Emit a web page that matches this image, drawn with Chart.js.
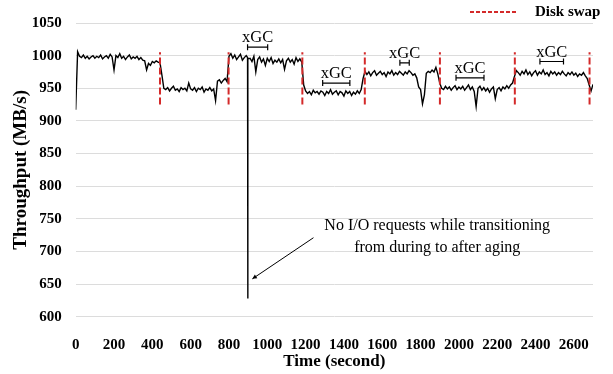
<!DOCTYPE html>
<html>
<head>
<meta charset="utf-8">
<script src="https://cdn.jsdelivr.net/npm/chart.js@4.4.0/dist/chart.umd.min.js"></script>
<style>
  body { margin: 0; background: #fff; }
  #wrap { width: 613px; height: 374px; }
</style>
</head>
<body>
<div id="wrap"><canvas id="throughputChart"></canvas></div>
<script>
// one throughput sample every 10 s, 0 .. 2700 s (MB/s)
const sampleStep = 10;
const throughput = [
  917, 1006, 999, 997, 1001, 996, 999, 995, 998, 1000,
  996, 999, 997, 1001, 995, 998, 1000, 996, 1002, 998,
  978, 1000, 997, 1003, 996, 999, 994, 998, 1001, 995,
  998, 996, 999, 994, 997, 993, 992, 978, 988, 985,
  991, 989, 992, 990, 989, 970, 950, 948, 951, 946,
  950, 953, 947, 949, 945, 951, 948, 950, 946, 958,
  949, 947, 951, 945, 950, 948, 952, 944, 949, 947,
  951, 946, 949, 931, 961, 963, 958, 962, 965, 960,
  999, 1003, 996, 1001, 994, 998, 1002, 993, 997, 1000,
  995, 996, 991, 999, 975, 994, 998, 990, 995, 985,
  996, 991, 997, 988, 993, 990, 995, 989, 994, 979,
  992, 996, 990, 994, 987, 997, 991, 995, 990, 955,
  946, 942, 945, 940, 947, 943, 945, 941, 946, 944,
  939, 945, 942, 948, 941, 944, 946, 940, 945, 943,
  938, 946, 942, 945, 939, 944, 941, 946, 942, 948,
  965, 976, 971, 975, 969, 974, 977, 970, 973, 976,
  971, 974, 968, 975, 972, 977, 970, 974, 971, 976,
  973, 970, 975, 972, 977, 974, 970, 972, 966, 952,
  948, 926, 940, 973, 976, 974, 978, 975, 982, 972,
  958, 950, 948, 953, 949, 952, 947, 951, 954, 948,
  952, 949, 953, 947, 951, 955, 948, 952, 945, 922,
  950, 953, 947, 951, 946, 950, 944, 949, 952, 934,
  948, 951, 946, 952, 949, 954, 950, 955, 958, 968,
  977, 974, 970, 976, 972, 978, 971, 975, 969, 974,
  977, 970, 975, 972, 978, 971, 974, 969, 976, 972,
  975, 970, 974, 971, 976, 972, 969, 974, 971, 975,
  970, 973, 968, 972, 970, 974, 969, 965, 955, 946,
  956
];

// brief stall with no I/O around 900 s
const ioGapTimes = [897, 898, 899];
const ioGapValues = [997, 628, 996];

// disk swaps (red dashed markers)
const swapTimes = [440, 798, 1183, 1509, 1901, 2292, 2682];
const swapRange = [925, 1005];

// xGC intervals
const xgcStart = [897, 1289, 1692, 1985, 2423];
const xgcEnd = [1002, 1431, 1741, 2131, 2546];
const xgcLevel = [1013, 958, 989, 966, 991];

const xTicks = [0, 200, 400, 600, 800, 1000, 1200, 1400, 1600, 1800, 2000, 2200, 2400, 2600];
const yTicks = [600, 650, 700, 750, 800, 850, 900, 950, 1000, 1050];

const serif = '"Liberation Serif", "Times New Roman", serif';

// build point lists
const points = throughput.map((v, i) => ({ x: i * sampleStep, y: v }));
ioGapTimes.forEach((t, i) => points.push({ x: t, y: ioGapValues[i] }));
points.sort((a, b) => a.x - b.x);

const swapPoints = [];
swapTimes.forEach(t => {
  swapPoints.push({ x: t, y: swapRange[0] }, { x: t, y: swapRange[1] }, { x: t, y: null });
});

// annotations, legend
const overlay = {
  id: 'overlay',
  afterDatasetsDraw(chart) {
    const { ctx, scales: { x, y } } = chart;
    ctx.save();
    ctx.strokeStyle = '#000';
    ctx.fillStyle = '#000';
    ctx.lineWidth = 1.2;

    // xGC spans
    ctx.font = '16.5px ' + serif;
    ctx.textAlign = 'center';
    ctx.textBaseline = 'alphabetic';
    xgcStart.forEach((s, i) => {
      const x0 = x.getPixelForValue(s);
      const x1 = x.getPixelForValue(xgcEnd[i]);
      const yy = y.getPixelForValue(xgcLevel[i]);
      ctx.beginPath();
      ctx.moveTo(x0, yy); ctx.lineTo(x1, yy);
      ctx.moveTo(x0, yy - 3); ctx.lineTo(x0, yy + 3);
      ctx.moveTo(x1, yy - 3); ctx.lineTo(x1, yy + 3);
      ctx.stroke();
      ctx.fillText('xGC', (x0 + x1) / 2, yy - 5);
    });

    // note + arrow
    ctx.font = '16px ' + serif;
    const tx = x.getPixelForValue(1887);
    const ty = y.getPixelForValue(739);
    ctx.textBaseline = 'middle';
    ctx.fillText('No I/O requests while transitioning', tx, ty);
    ctx.fillText('from during to after aging', tx, ty + 21.6);

    const ax0 = x.getPixelForValue(1241), ay0 = y.getPixelForValue(721);
    const ax1 = x.getPixelForValue(922), ay1 = y.getPixelForValue(658);
    ctx.lineWidth = 1;
    ctx.beginPath();
    ctx.moveTo(ax0, ay0); ctx.lineTo(ax1, ay1);
    ctx.stroke();
    const ang = Math.atan2(ay1 - ay0, ax1 - ax0);
    ctx.beginPath();
    ctx.moveTo(ax1, ay1);
    ctx.lineTo(ax1 - 5 * Math.cos(ang - 0.45), ay1 - 5 * Math.sin(ang - 0.45));
    ctx.lineTo(ax1 - 5 * Math.cos(ang + 0.45), ay1 - 5 * Math.sin(ang + 0.45));
    ctx.closePath();
    ctx.fill();

    // legend
    const lx = chart.width - 143;
    ctx.strokeStyle = '#d42a2a';
    ctx.lineWidth = 2;
    ctx.setLineDash([4, 2]);
    ctx.beginPath();
    ctx.moveTo(lx, 12); ctx.lineTo(lx + 48, 12);
    ctx.stroke();
    ctx.setLineDash([]);
    ctx.font = 'bold 15px ' + serif;
    ctx.textAlign = 'left';
    ctx.fillText('Disk swap', lx + 65, 12);
    ctx.restore();
  }
};

const ctx = document.getElementById('throughputChart').getContext('2d');

const throughputChart = new Chart(ctx, {
  type: 'line',
  data: {
    datasets: [
      {
        label: 'Disk swap',
        data: swapPoints,
        borderColor: '#d42a2a',
        borderWidth: 2,
        borderDash: [7, 3],
        pointRadius: 0,
        spanGaps: false,
        order: 0
      },
      {
        label: 'Throughput',
        data: points,
        borderColor: '#000',
        borderWidth: 1.4,
        pointRadius: 0,
        tension: 0,
        order: 1
      }
    ]
  },
  options: {
    responsive: true,
    maintainAspectRatio: false,
    animation: false,
    layout: { padding: { top: 9, right: 20, bottom: 0, left: 0 } },
    plugins: {
      legend: { display: false },
      tooltip: { enabled: false }
    },
    scales: {
      x: {
        type: 'linear',
        min: 0,
        max: 2700,
        afterBuildTicks: s => { s.ticks = xTicks.map(v => ({ value: v })); },
        afterFit: s => { s.height = 57.3; },
        grid: { display: false },
        border: { display: false },
        ticks: {
          color: '#000',
          padding: 11,
          maxRotation: 0,
          autoSkip: false,
          callback: v => String(v),
          font: { family: serif, size: 15, weight: 'bold' }
        },
        title: {
          display: true,
          text: 'Time (second)',
          color: '#000',
          font: { family: serif, size: 17, weight: 'bold' },
          padding: { top: 0, bottom: 2 }
        }
      },
      y: {
        min: 600,
        max: 1050,
        afterBuildTicks: s => { s.ticks = yTicks.map(v => ({ value: v })); },
        afterFit: s => { s.width = 75.7; },
        grid: { color: '#dcdcdc', lineWidth: 1, drawTicks: false },
        border: { display: false },
        ticks: {
          color: '#000',
          padding: 14,
          callback: v => String(v),
          font: { family: serif, size: 15, weight: 'bold' }
        },
        title: {
          display: true,
          text: 'Throughput (MB/s)',
          color: '#000',
          font: { family: serif, size: 19, weight: 'bold' },
          padding: { top: 10, bottom: 0 }
        }
      }
    }
  },
  plugins: [overlay]
});
</script>
</body>
</html>
